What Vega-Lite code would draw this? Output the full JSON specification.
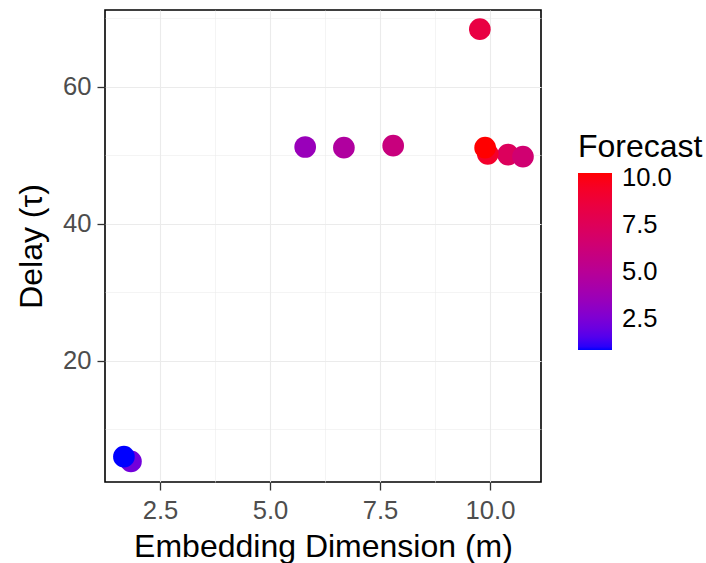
{
  "$schema": "https://vega.github.io/schema/vega-lite/v6.json",
  "autosize": "none",
  "width": 436,
  "height": 472,
  "padding": {"left": 105, "top": 10, "right": 165, "bottom": 81},
  "background": "white",
  "config": {
    "font": "Liberation Sans",
    "view": {"stroke": "black", "strokeWidth": 1.6},
    "axis": {
      "domain": false,
      "gridColor": "#ebebeb",
      "tickColor": "#333333",
      "tickSize": 8,
      "tickWidth": 1.3,
      "labelColor": "#4d4d4d",
      "labelFontSize": 25.6,
      "labelFont": "Liberation Sans",
      "titleFont": "Liberation Sans",
      "titleFontSize": 32,
      "titleFontWeight": "normal",
      "titleColor": "black"
    }
  },
  "data": {
    "values": [
      {"m": 1.84, "tau": 5.3, "forecast": 2.2},
      {"m": 1.68, "tau": 6.0, "forecast": 0.82},
      {"m": 5.80, "tau": 51.2, "forecast": 3.5},
      {"m": 6.68, "tau": 51.1, "forecast": 4.6},
      {"m": 7.80, "tau": 51.4, "forecast": 6.0},
      {"m": 9.77, "tau": 68.4, "forecast": 8.4},
      {"m": 10.41, "tau": 50.1, "forecast": 7.4},
      {"m": 10.75, "tau": 49.8, "forecast": 6.5},
      {"m": 9.95, "tau": 50.2, "forecast": 9.3},
      {"m": 9.89, "tau": 51.1, "forecast": 10.28}
    ]
  },
  "mark": {"type": "point", "filled": true, "opacity": 1, "size": 470},
  "encoding": {
    "x": {
      "field": "m",
      "type": "quantitative",
      "title": "Embedding Dimension (m)",
      "scale": {"domain": [1.25, 11.16], "nice": false, "zero": false},
      "axis": {
        "values": [2.5, 3.75, 5, 6.25, 7.5, 8.75, 10],
        "labelExpr": "datum.value % 2.5 == 0 ? format(datum.value, '.1f') : ''",
        "gridWidth": {"condition": {"test": "datum.value % 2.5 == 0", "value": 1.1}, "value": 0.55},
        "tickOpacity": {"condition": {"test": "datum.value % 2.5 == 0", "value": 1}, "value": 0},
        "labelPadding": 8,
        "titlePadding": 8
      }
    },
    "y": {
      "field": "tau",
      "type": "quantitative",
      "title": "Delay (τ)",
      "scale": {"domain": [2.3, 71.2], "nice": false, "zero": false},
      "axis": {
        "values": [10, 20, 30, 40, 50, 60, 70],
        "labelExpr": "datum.value % 20 == 0 ? format(datum.value, 'd') : ''",
        "gridWidth": {"condition": {"test": "datum.value % 20 == 0", "value": 1.1}, "value": 0.55},
        "tickOpacity": {"condition": {"test": "datum.value % 20 == 0", "value": 1}, "value": 0},
        "labelPadding": 6,
        "titlePadding": 14
      }
    },
    "color": {
      "field": "forecast",
      "type": "quantitative",
      "title": "Forecast",
      "scale": {"domain": [0.82, 10.28], "range": ["blue", "red"], "interpolate": "lab", "nice": false, "zero": false},
      "legend": {
        "orient": "none",
        "legendX": 473,
        "legendY": 122,
        "direction": "vertical",
        "gradientLength": 177,
        "gradientThickness": 34,
        "gradientStrokeWidth": 0,
        "values": [2.5, 5, 7.5, 10],
        "format": ".1f",
        "titleFontSize": 32,
        "titleFontWeight": "normal",
        "titleColor": "black",
        "titlePadding": 9,
        "labelFontSize": 25.6,
        "labelColor": "black",
        "labelOffset": 10
      }
    }
  }
}
